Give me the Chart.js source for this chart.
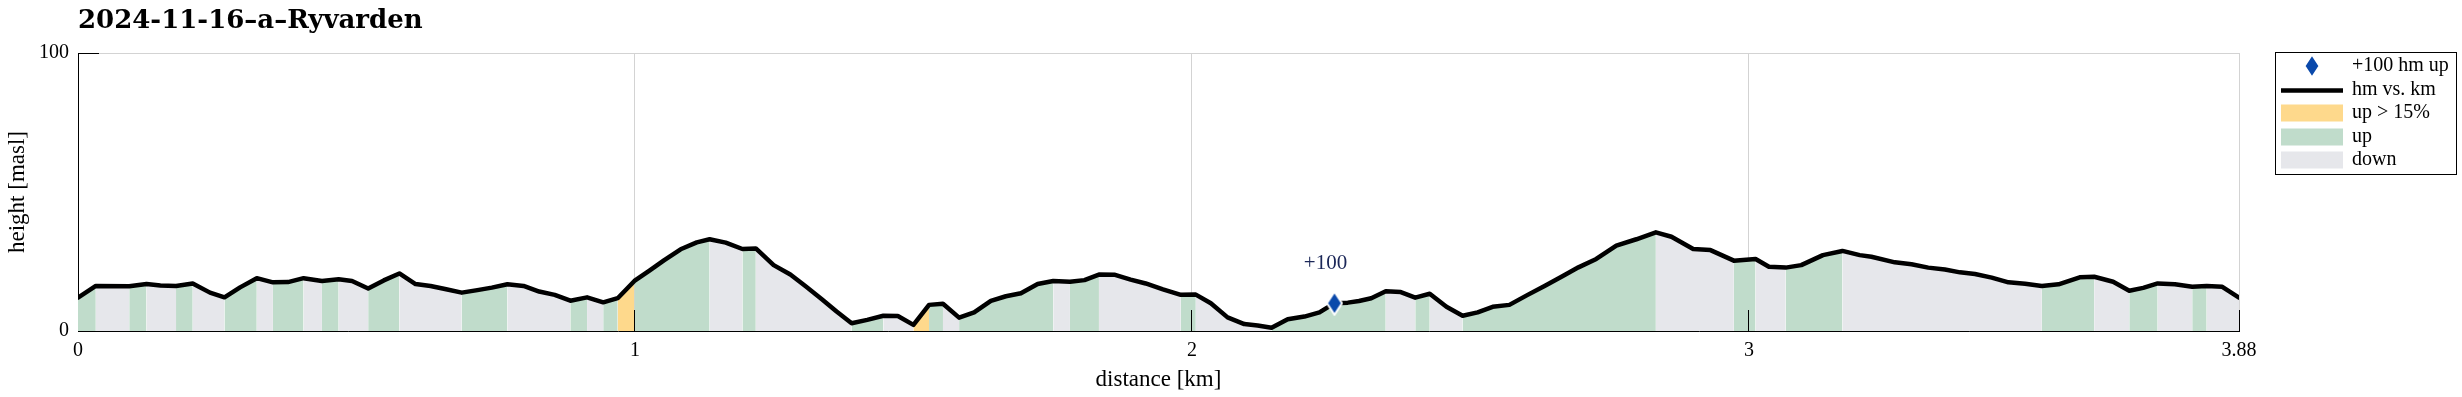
<!DOCTYPE html>
<html>
<head>
<meta charset="utf-8">
<script src="https://cdn.jsdelivr.net/npm/chart.js@4.4.1/dist/chart.umd.min.js"></script>
<style>
  html, body { margin: 0; padding: 0; background: #fff; }
  #wrap { width: 2462px; height: 397px; }
</style>
</head>
<body>
<div id="wrap"><canvas id="profile" width="2462" height="397"></canvas></div>
<script>
// elevation profile
const distKm = [
  0.000, 0.032, 0.092, 0.123, 0.148, 0.176, 0.206, 0.237, 0.263, 0.291,
  0.321, 0.350, 0.377, 0.405, 0.438, 0.468, 0.492, 0.521, 0.549, 0.577,
  0.606, 0.633, 0.661, 0.689, 0.717, 0.743, 0.771, 0.800, 0.828, 0.856,
  0.884, 0.914, 0.943, 0.969, 0.999, 1.026, 1.052, 1.082, 1.111, 1.134,
  1.163, 1.193, 1.217, 1.249, 1.279, 1.307, 1.335, 1.362, 1.389, 1.417,
  1.446, 1.472, 1.500, 1.528, 1.553, 1.582, 1.609, 1.639, 1.666, 1.693,
  1.723, 1.751, 1.781, 1.807, 1.833, 1.862, 1.890, 1.917, 1.948, 1.980,
  2.007, 2.034, 2.064, 2.094, 2.118, 2.143, 2.172, 2.202, 2.229, 2.256,
  2.280, 2.300, 2.322, 2.348, 2.375, 2.401, 2.427, 2.457, 2.486, 2.513,
  2.540, 2.570, 2.602, 2.634, 2.666, 2.694, 2.726, 2.762, 2.798, 2.833,
  2.861, 2.900, 2.931, 2.973, 3.012, 3.036, 3.066, 3.094, 3.133, 3.168,
  3.199, 3.220, 3.262, 3.292, 3.322, 3.352, 3.379, 3.406, 3.436, 3.466,
  3.496, 3.526, 3.556, 3.594, 3.620, 3.654, 3.683, 3.708, 3.734, 3.765,
  3.796, 3.822, 3.850, 3.880
];
const heightM = [
  12.0, 16.2, 16.1, 16.9, 16.4, 16.2, 17.1, 13.8, 12.1, 15.7,
  19.0, 17.5, 17.6, 19.0, 18.0, 18.6, 18.0, 15.3, 18.2, 20.7,
  16.9, 16.2, 15.0, 13.8, 14.7, 15.6, 16.8, 16.2, 14.2, 13.0,
  10.9, 12.1, 10.3, 11.8, 18.0, 21.7, 25.4, 29.4, 31.9, 33.0,
  31.8, 29.5, 29.7, 23.7, 20.3, 16.0, 11.5, 7.0, 2.8, 4.0,
  5.5, 5.4, 2.2, 9.4, 9.8, 4.8, 6.7, 10.8, 12.5, 13.6,
  16.9, 18.0, 17.7, 18.3, 20.3, 20.2, 18.5, 17.1, 15.0, 13.0,
  13.1, 10.0, 4.9, 2.5, 2.0, 1.2, 4.2, 5.2, 6.7, 10.0,
  10.2, 10.8, 11.8, 14.3, 14.0, 12.0, 13.4, 8.7, 5.5, 6.7,
  8.7, 9.4, 12.9, 16.3, 19.8, 22.9, 25.9, 30.7, 33.0, 35.5,
  33.9, 29.5, 29.1, 25.3, 25.9, 23.1, 22.8, 23.7, 27.3, 28.8,
  27.3, 26.7, 24.7, 24.0, 22.8, 22.1, 21.1, 20.5, 19.2, 17.5,
  17.0, 16.2, 16.8, 19.3, 19.5, 17.7, 14.5, 15.5, 17.1, 16.8,
  15.9, 16.2, 15.9, 12.0
];

// +100 hm marker
const markerKm = [2.256];
const markerM = [10.0];
const markerText = ["+100"];

const xTicks = [0, 1, 2, 3, 3.88];
const xTickLabels = ["0", "1", "2", "3", "3.88"];
const yTicks = [0, 100];
const yTickLabels = ["0", "100"];

const legendLabels = ["+100 hm up", "hm vs. km", "up > 15%", "up", "down"];

const STEEP = "#fed98c";
const UP = "#c0dccb";
const DOWN = "#e6e7eb";
const BLUE = "#0a49ab";
const SERIF = "'Liberation Serif', 'Times New Roman', serif";

Chart.defaults.font.family = SERIF;
Chart.defaults.color = "#000";

// up > 15% / up / down, from the slope of each segment
function slopeColor(c) {
  const dx = (c.p1.parsed.x - c.p0.parsed.x) * 1000;
  const dy = c.p1.parsed.y - c.p0.parsed.y;
  if (dy > 0 && dy / dx > 0.15) return STEEP;
  return dy > 0 ? UP : DOWN;
}

// tall diamond used as point style
const diamond = document.createElement("canvas");
diamond.width = 18;
diamond.height = 26;
(function () {
  const d = diamond.getContext("2d");
  d.beginPath();
  d.moveTo(9, 1.5);
  d.lineTo(16.5, 13);
  d.lineTo(9, 24.5);
  d.lineTo(1.5, 13);
  d.closePath();
  d.fillStyle = BLUE;
  d.fill();
  d.lineWidth = 2;
  d.strokeStyle = "#fff";
  d.stroke();
})();

const pts = () => distKm.map((k, i) => ({ x: k, y: heightM[i] }));

function alignPx(p) {
  return Math.round(p - 0.5) + 0.5;
}

const extras = {
  id: "extras",
  afterDatasetsDraw(chart) {
    const { ctx, chartArea: a, scales: { x, y } } = chart;
    ctx.save();
    // inward tick marks
    ctx.strokeStyle = "#000";
    ctx.lineWidth = 1;
    ctx.beginPath();
    xTicks.slice(1).forEach(v => {
      const px = alignPx(x.getPixelForValue(v));
      ctx.moveTo(px, a.bottom);
      ctx.lineTo(px, a.bottom - 21);
    });
    yTicks.slice(1).forEach(v => {
      const py = alignPx(y.getPixelForValue(v));
      ctx.moveTo(a.left, py);
      ctx.lineTo(a.left + 21, py);
    });
    ctx.stroke();

    // marker labels
    ctx.fillStyle = "#1b2758";
    ctx.font = "21px " + SERIF;
    ctx.textAlign = "center";
    ctx.textBaseline = "middle";
    markerKm.forEach((k, i) => {
      ctx.fillText(markerText[i], x.getPixelForValue(k) - 9, y.getPixelForValue(markerM[i]) - 40);
    });
    ctx.restore();
  },
  afterDraw(chart) {
    const { ctx, chartArea: a } = chart;
    const lx = a.right + 36, ly = a.top - 1, lw = 181, lh = 122;
    const rows = [14, 37.5, 61, 85, 108];
    ctx.save();
    ctx.fillStyle = "#fff";
    ctx.fillRect(lx, ly, lw, lh);
    ctx.strokeStyle = "#000";
    ctx.lineWidth = 1;
    ctx.strokeRect(lx + 0.5, ly + 0.5, lw, lh);

    // symbols
    ctx.drawImage(diamond, lx + 37 - 9, ly + rows[0] - 13);
    ctx.beginPath();
    ctx.moveTo(lx + 6, ly + rows[1] + 1);
    ctx.lineTo(lx + 68, ly + rows[1] + 1);
    ctx.lineWidth = 4.5;
    ctx.strokeStyle = "#000";
    ctx.stroke();
    [STEEP, UP, DOWN].forEach((c, i) => {
      ctx.fillStyle = c;
      ctx.fillRect(lx + 6, ly + rows[i + 2] - 8.5, 62, 17);
    });

    // labels
    ctx.fillStyle = "#000";
    ctx.font = "20px " + SERIF;
    ctx.textAlign = "left";
    ctx.textBaseline = "middle";
    legendLabels.forEach((t, i) => {
      ctx.fillText(t, lx + 77, ly + rows[i]);
    });
    ctx.restore();
  }
};

new Chart(document.getElementById("profile"), {
  type: "line",
  data: {
    datasets: [
      {
        label: legendLabels[0],
        data: markerKm.map((k, i) => ({ x: k, y: markerM[i] })),
        showLine: false,
        pointStyle: diamond,
        pointRadius: 9,
        pointHoverRadius: 9
      },
      {
        label: legendLabels[1],
        data: pts(),
        borderColor: "#000",
        borderWidth: 4.5,
        borderJoinStyle: "round",
        borderCapStyle: "round",
        pointRadius: 0,
        tension: 0,
        fill: false
      },
      {
        label: "slope",
        data: pts(),
        borderColor: "rgba(0,0,0,0)",
        borderWidth: 0,
        pointRadius: 0,
        tension: 0,
        fill: "origin",
        backgroundColor: DOWN,
        segment: { backgroundColor: slopeColor }
      }
    ]
  },
  options: {
    responsive: false,
    animation: false,
    devicePixelRatio: 1,
    events: [],
    layout: { padding: { left: 0, right: 223, top: 0, bottom: 0 } },
    plugins: {
      legend: { display: false },
      tooltip: { enabled: false },
      title: {
        display: true,
        text: "2024-11-16–a–Ryvarden",
        align: "start",
        fullSize: false,
        color: "#000",
        font: { family: "'DejaVu Serif', serif", size: 26, weight: "bold", lineHeight: 1.2 },
        padding: { top: 6, bottom: 15.8 }
      }
    },
    scales: {
      x: {
        type: "linear",
        min: 0,
        max: 3.88,
        afterBuildTicks: s => { s.ticks = xTicks.map(v => ({ value: v })); },
        afterFit: s => { s.height = 66; },
        ticks: {
          autoSkip: false,
          maxRotation: 0,
          padding: 8,
          color: "#000",
          font: { size: 20 },
          callback: (v, i) => xTickLabels[i]
        },
        grid: { color: "#d3d3d3", lineWidth: 1, drawTicks: false },
        border: { color: "#000", width: 1 },
        title: {
          display: true,
          text: "distance [km]",
          color: "#000",
          font: { size: 23, lineHeight: 1.2 },
          padding: { top: 0, bottom: 3 }
        }
      },
      y: {
        type: "linear",
        min: 0,
        max: 100,
        afterBuildTicks: s => { s.ticks = yTicks.map(v => ({ value: v })); },
        afterFit: s => { s.width = 78; },
        ticks: {
          padding: 9,
          color: "#000",
          font: { size: 20 },
          callback: (v, i) => yTickLabels[i]
        },
        grid: { color: "#d3d3d3", lineWidth: 1, drawTicks: false },
        border: { color: "#000", width: 1 },
        title: {
          display: true,
          text: "height [masl]",
          color: "#000",
          font: { size: 23, lineHeight: 1.2 },
          padding: { top: 4, bottom: 0 }
        }
      }
    }
  },
  plugins: [extras]
});
</script>
</body>
</html>
